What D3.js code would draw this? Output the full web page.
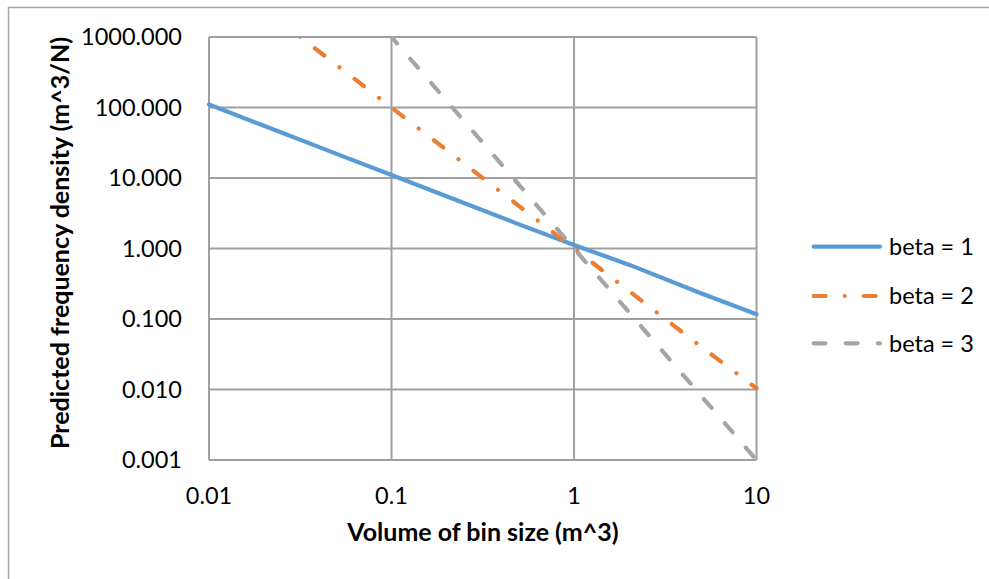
<!DOCTYPE html>
<html>
<head>
<meta charset="utf-8">
<script src="https://cdn.jsdelivr.net/npm/d3@7/dist/d3.min.js"></script>
<style>
  html, body { margin: 0; padding: 0; background: #fff; }
  svg { display: block; }
  text { font-family: Lato, "Open Sans", sans-serif; fill: #000; }
</style>
</head>
<body>
<svg id="chart" width="989" height="579"></svg>
<script>
// ---- data ----
const volumes = [0.01, 0.02, 0.05, 0.1, 0.2, 0.5, 1, 2, 5, 10];
const beta1 = [110, 55, 22, 11, 5.5, 2.2, 1.12, 0.59, 0.23, 0.117];
const beta2 = [10000, 2500, 400, 100, 25, 4, 1, 0.25, 0.04, 0.0104];
const beta3 = [1000000, 125000, 8000, 1000, 125, 8, 1, 0.125, 0.008, 0.001];
const seriesNames = ["beta = 1", "beta = 2", "beta = 3"];
const xTickValues = [0.01, 0.1, 1, 10];
const xTickLabels = ["0.01", "0.1", "1", "10"];
const yTickValues = [0.001, 0.01, 0.1, 1, 10, 100, 1000];
const xTitle = "Volume of bin size (m^3)";
const yTitle = "Predicted frequency density (m^3/N)";

// ---- layout ----
const svg = d3.select("#chart");
const pLeft = 209, pRight = 756.5, pTop = 37, pBottom = 460;
const x = d3.scaleLog().domain([0.01, 10]).range([pLeft, pRight]);
const y = d3.scaleLog().domain([0.001, 1000]).range([pBottom, pTop]);

// chart border
svg.append("rect").attr("x", 8.5).attr("y", 7.5).attr("width", 1100).attr("height", 700)
  .attr("fill", "none").attr("stroke", "#a6a6a6").attr("stroke-width", 1.5);

// gridlines
const grid = svg.append("g").attr("stroke", "#a0a0a0").attr("stroke-width", 2);
grid.selectAll("line.h").data(yTickValues).join("line").attr("class", "h")
  .attr("x1", pLeft).attr("x2", pRight).attr("y1", d => y(d)).attr("y2", d => y(d));
grid.selectAll("line.v").data(xTickValues).join("line").attr("class", "v")
  .attr("y1", pTop).attr("y2", pBottom).attr("x1", d => x(d)).attr("x2", d => x(d));

// y tick labels
svg.append("g").selectAll("text").data(yTickValues).join("text")
  .attr("x", 182).attr("y", d => y(d)).attr("dy", "0.35em")
  .attr("text-anchor", "end").attr("font-size", 23.5)
  .text(d => d3.format(".3f")(d));

// x tick labels
svg.append("g").selectAll("text").data(xTickValues).join("text")
  .attr("x", d => x(d)).attr("y", 495.5).attr("dy", "0.35em")
  .attr("text-anchor", "middle").attr("font-size", 23.5)
  .text((d, i) => xTickLabels[i]);

// axis titles
svg.append("text").attr("x", 483).attr("y", 541)
  .attr("text-anchor", "middle").attr("font-size", 25).attr("font-weight", "bold")
  .text(xTitle);
svg.append("text").attr("transform", "translate(69,243) rotate(-90)")
  .attr("text-anchor", "middle").attr("font-size", 25).attr("font-weight", "bold")
  .text(yTitle);

// clip
svg.append("clipPath").attr("id", "plotclip").append("rect")
  .attr("x", pLeft - 3).attr("y", pTop).attr("width", pRight - pLeft + 6).attr("height", pBottom - pTop);

const styles = [
  { color: "#5B9BD5", dash: null, offset: 0 },
  { color: "#ED7D31", dash: "11.8,19.2,0.01,19.1", offset: 16.5 },
  { color: "#A5A5A5", dash: "11.8,20.3", offset: 12.9 }
];
const allSeries = [beta1, beta2, beta3];
const line = d3.line().x(d => x(d[0])).y(d => y(d[1]));

const plot = svg.append("g").attr("clip-path", "url(#plotclip)");
allSeries.forEach((vals, i) => {
  const pts = volumes.map((v, j) => [v, vals[j]]);
  plot.append("path").datum(pts).attr("d", line)
    .attr("fill", "none").attr("stroke", styles[i].color).attr("stroke-width", 4.2)
    .attr("stroke-linecap", "round").attr("stroke-linejoin", "round")
    .attr("stroke-dasharray", styles[i].dash)
    .attr("stroke-dashoffset", styles[i].offset);
});

// legend
const legendY = [246.7, 296, 343.3];
const lg = svg.append("g");
seriesNames.forEach((name, i) => {
  lg.append("line").attr("x1", 813.7).attr("x2", 880).attr("y1", legendY[i]).attr("y2", legendY[i])
    .attr("stroke", styles[i].color).attr("stroke-width", 4.2).attr("stroke-linecap", "round")
    .attr("stroke-dasharray", styles[i].dash);
  lg.append("text").attr("x", 889).attr("y", legendY[i]).attr("dy", "0.35em")
    .attr("font-size", 23.5).text(name);
});
</script>
</body>
</html>
